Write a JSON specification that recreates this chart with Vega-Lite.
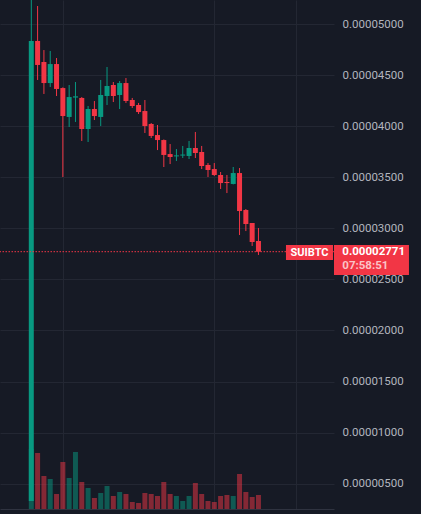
{
  "$schema": "https://vega.github.io/schema/vega-lite/v6.json",
  "width": 334,
  "height": 509,
  "autosize": "none",
  "padding": {"left": 0, "top": 0, "right": 87, "bottom": 5},
  "background": "#161a25",
  "config": {
    "view": {"stroke": null},
    "axis": {"labelFont": "Roboto", "labelFontSize": 11.5, "labelColor": "#b2b5be", "gridColor": "#232733", "gridWidth": 1}
  },
  "datasets": {
    "candles": [
      {"i": 0, "open": 0.0000033, "high": 0.0000524, "low": 0.0000033, "close": 0.00004834, "volume": 60},
      {"i": 1, "open": 0.00004834, "high": 0.00005176, "low": 0.00004452, "close": 0.00004599, "volume": 56},
      {"i": 2, "open": 0.00004628, "high": 0.00004745, "low": 0.00004315, "close": 0.00004422, "volume": 33},
      {"i": 3, "open": 0.00004422, "high": 0.00004736, "low": 0.00004383, "close": 0.00004608, "volume": 30},
      {"i": 4, "open": 0.00004608, "high": 0.00004667, "low": 0.00004295, "close": 0.00004364, "volume": 15},
      {"i": 5, "open": 0.00004373, "high": 0.0000438, "low": 0.00003502, "close": 0.00004099, "volume": 47},
      {"i": 6, "open": 0.0000409, "high": 0.00004403, "low": 0.00003992, "close": 0.00004285, "volume": 31},
      {"i": 7, "open": 0.0000428, "high": 0.00004432, "low": 0.00004041, "close": 0.00004292, "volume": 57},
      {"i": 8, "open": 0.00004276, "high": 0.00004285, "low": 0.00003855, "close": 0.00003972, "volume": 27},
      {"i": 9, "open": 0.00003972, "high": 0.00004197, "low": 0.00003845, "close": 0.00004168, "volume": 21},
      {"i": 10, "open": 0.00004168, "high": 0.00004246, "low": 0.0000406, "close": 0.00004099, "volume": 11},
      {"i": 11, "open": 0.0000409, "high": 0.00004452, "low": 0.00004001, "close": 0.00004305, "volume": 16},
      {"i": 12, "open": 0.00004295, "high": 0.00004579, "low": 0.00004207, "close": 0.00004393, "volume": 23},
      {"i": 13, "open": 0.00004403, "high": 0.00004432, "low": 0.00004236, "close": 0.00004295, "volume": 13},
      {"i": 14, "open": 0.00004305, "high": 0.00004442, "low": 0.00004168, "close": 0.00004422, "volume": 17},
      {"i": 15, "open": 0.00004422, "high": 0.00004471, "low": 0.00004227, "close": 0.00004246, "volume": 15},
      {"i": 16, "open": 0.00004256, "high": 0.00004276, "low": 0.00004178, "close": 0.00004197, "volume": 7},
      {"i": 17, "open": 0.00004207, "high": 0.00004227, "low": 0.00004119, "close": 0.00004138, "volume": 6},
      {"i": 18, "open": 0.00004148, "high": 0.00004256, "low": 0.00003933, "close": 0.00004001, "volume": 16},
      {"i": 19, "open": 0.00004021, "high": 0.00004031, "low": 0.00003884, "close": 0.00003904, "volume": 15},
      {"i": 20, "open": 0.00003913, "high": 0.00004011, "low": 0.00003766, "close": 0.00003864, "volume": 13},
      {"i": 21, "open": 0.00003864, "high": 0.0000387, "low": 0.000036, "close": 0.00003718, "volume": 27},
      {"i": 22, "open": 0.00003727, "high": 0.00003825, "low": 0.00003629, "close": 0.00003698, "volume": 15},
      {"i": 23, "open": 0.00003704, "high": 0.00003776, "low": 0.00003659, "close": 0.00003714, "volume": 13},
      {"i": 24, "open": 0.00003712, "high": 0.00003806, "low": 0.00003688, "close": 0.00003722, "volume": 8},
      {"i": 25, "open": 0.00003708, "high": 0.00003855, "low": 0.00003678, "close": 0.00003786, "volume": 13},
      {"i": 26, "open": 0.00003786, "high": 0.00003943, "low": 0.00003688, "close": 0.00003737, "volume": 26},
      {"i": 27, "open": 0.00003747, "high": 0.00003806, "low": 0.0000358, "close": 0.0000361, "volume": 15},
      {"i": 28, "open": 0.0000362, "high": 0.00003639, "low": 0.00003502, "close": 0.00003571, "volume": 8},
      {"i": 29, "open": 0.0000358, "high": 0.00003639, "low": 0.00003512, "close": 0.00003522, "volume": 7},
      {"i": 30, "open": 0.00003522, "high": 0.00003551, "low": 0.00003385, "close": 0.00003443, "volume": 13},
      {"i": 31, "open": 0.00003453, "high": 0.00003522, "low": 0.00003345, "close": 0.00003443, "volume": 14},
      {"i": 32, "open": 0.00003434, "high": 0.000036, "low": 0.0000343, "close": 0.00003541, "volume": 13},
      {"i": 33, "open": 0.00003541, "high": 0.0000359, "low": 0.00002934, "close": 0.00003169, "volume": 35},
      {"i": 34, "open": 0.00003179, "high": 0.00003189, "low": 0.00002973, "close": 0.00003042, "volume": 17},
      {"i": 35, "open": 0.00003052, "high": 0.00003052, "low": 0.00002827, "close": 0.00002866, "volume": 12},
      {"i": 36, "open": 0.00002876, "high": 0.00003003, "low": 0.00002739, "close": 0.00002771, "volume": 14}
    ],
    "last": [
      {"symbol": "SUIBTC", "price": 0.00002771, "countdown": "07:58:51"}
    ]
  },
  "layer": [
    {
      "data": {"name": "candles"},
      "mark": {"type": "bar", "orient": "vertical", "width": 5, "opacity": 0.5},
      "encoding": {
        "x": {"field": "i", "type": "quantitative", "scale": {"domain": [-4.96, 47.97], "nice": false, "zero": false, "padding": 0},
              "axis": {"values": [5, 29, 42], "grid": true, "labels": false, "ticks": false, "domain": true, "domainColor": "#2f3340", "title": null}},
        "y": {"field": "volume", "type": "quantitative", "scale": {"domain": [0, 509], "nice": false, "zero": true}, "axis": null},
        "color": {"condition": {"test": "datum.close >= datum.open", "value": "#089981"}, "value": "#f23645"}
      }
    },
    {
      "layer": [
        {
          "data": {"name": "candles"},
          "mark": {"type": "rule", "strokeWidth": 1, "clip": true},
          "encoding": {
            "x": {"field": "i", "type": "quantitative", "scale": {"domain": [-4.96, 47.97], "nice": false, "zero": false, "padding": 0},
                  "axis": {"values": [5, 29, 42], "grid": true, "labels": false, "ticks": false, "domain": true, "domainColor": "#2f3340", "title": null}},
            "y": {"field": "low", "type": "quantitative", "scale": {"domain": [0.00000252, 0.00005235], "nice": false, "zero": false},
                  "axis": {"orient": "right", "values": [0.000005, 0.00001, 0.000015, 0.00002, 0.000025, 0.00003, 0.000035, 0.00004, 0.000045, 0.00005], "format": ".8f", "grid": true, "ticks": false, "domain": false, "labelPadding": 8, "title": null}},
            "y2": {"field": "high"},
            "color": {"condition": {"test": "datum.close >= datum.open", "value": "#089981"}, "value": "#f23645"}
          }
        },
        {
          "data": {"name": "candles"},
          "mark": {"type": "bar", "width": 5, "clip": true},
          "encoding": {
            "x": {"field": "i", "type": "quantitative", "scale": {"domain": [-4.96, 47.97], "nice": false, "zero": false, "padding": 0},
                  "axis": {"values": [5, 29, 42], "grid": true, "labels": false, "ticks": false, "domain": true, "domainColor": "#2f3340", "title": null}},
            "y": {"field": "open", "type": "quantitative"},
            "y2": {"field": "close"},
            "color": {"condition": {"test": "datum.close >= datum.open", "value": "#089981"}, "value": "#f23645"}
          }
        },
        {
          "data": {"name": "last"},
          "mark": {"type": "rule", "stroke": "#f23645", "strokeWidth": 1, "strokeDash": [1.5, 1.5]},
          "encoding": {
            "y": {"field": "price", "type": "quantitative"}
          }
        },
        {
          "data": {"name": "last"},
          "mark": {"type": "rule", "stroke": "#f23645", "strokeWidth": 15, "yOffset": 0.8},
          "encoding": {
            "x": {"datum": 40.36, "type": "quantitative"},
            "x2": {"datum": 47.81},
            "y": {"field": "price", "type": "quantitative"}
          }
        },
        {
          "data": {"name": "last"},
          "mark": {"type": "rule", "stroke": "#f23645", "strokeWidth": 30, "yOffset": 8.3},
          "encoding": {
            "x": {"datum": 47.97, "type": "quantitative"},
            "x2": {"datum": 59.85},
            "y": {"field": "price", "type": "quantitative"}
          }
        },
        {
          "data": {"name": "last"},
          "mark": {"type": "text", "font": "Roboto", "fontSize": 11, "fontWeight": "bold", "color": "#ffffff", "align": "center", "baseline": "middle", "dy": 1},
          "encoding": {
            "x": {"datum": 44.09, "type": "quantitative"},
            "y": {"field": "price", "type": "quantitative"},
            "text": {"field": "symbol"}
          }
        },
        {
          "data": {"name": "last"},
          "mark": {"type": "text", "font": "Roboto", "fontSize": 11.5, "fontWeight": "bold", "color": "#ffffff", "align": "left", "baseline": "middle", "dy": 0.8},
          "encoding": {
            "x": {"datum": 49.29, "type": "quantitative"},
            "y": {"field": "price", "type": "quantitative"},
            "text": {"field": "price", "format": ".8f"}
          }
        },
        {
          "data": {"name": "last"},
          "mark": {"type": "text", "font": "Roboto", "fontSize": 11.5, "fontWeight": "bold", "color": "#fbc3c7", "align": "left", "baseline": "middle", "dy": 14},
          "encoding": {
            "x": {"datum": 49.29, "type": "quantitative"},
            "y": {"field": "price", "type": "quantitative"},
            "text": {"field": "countdown"}
          }
        }
      ]
    }
  ],
  "resolve": {"scale": {"y": "independent"}}
}
